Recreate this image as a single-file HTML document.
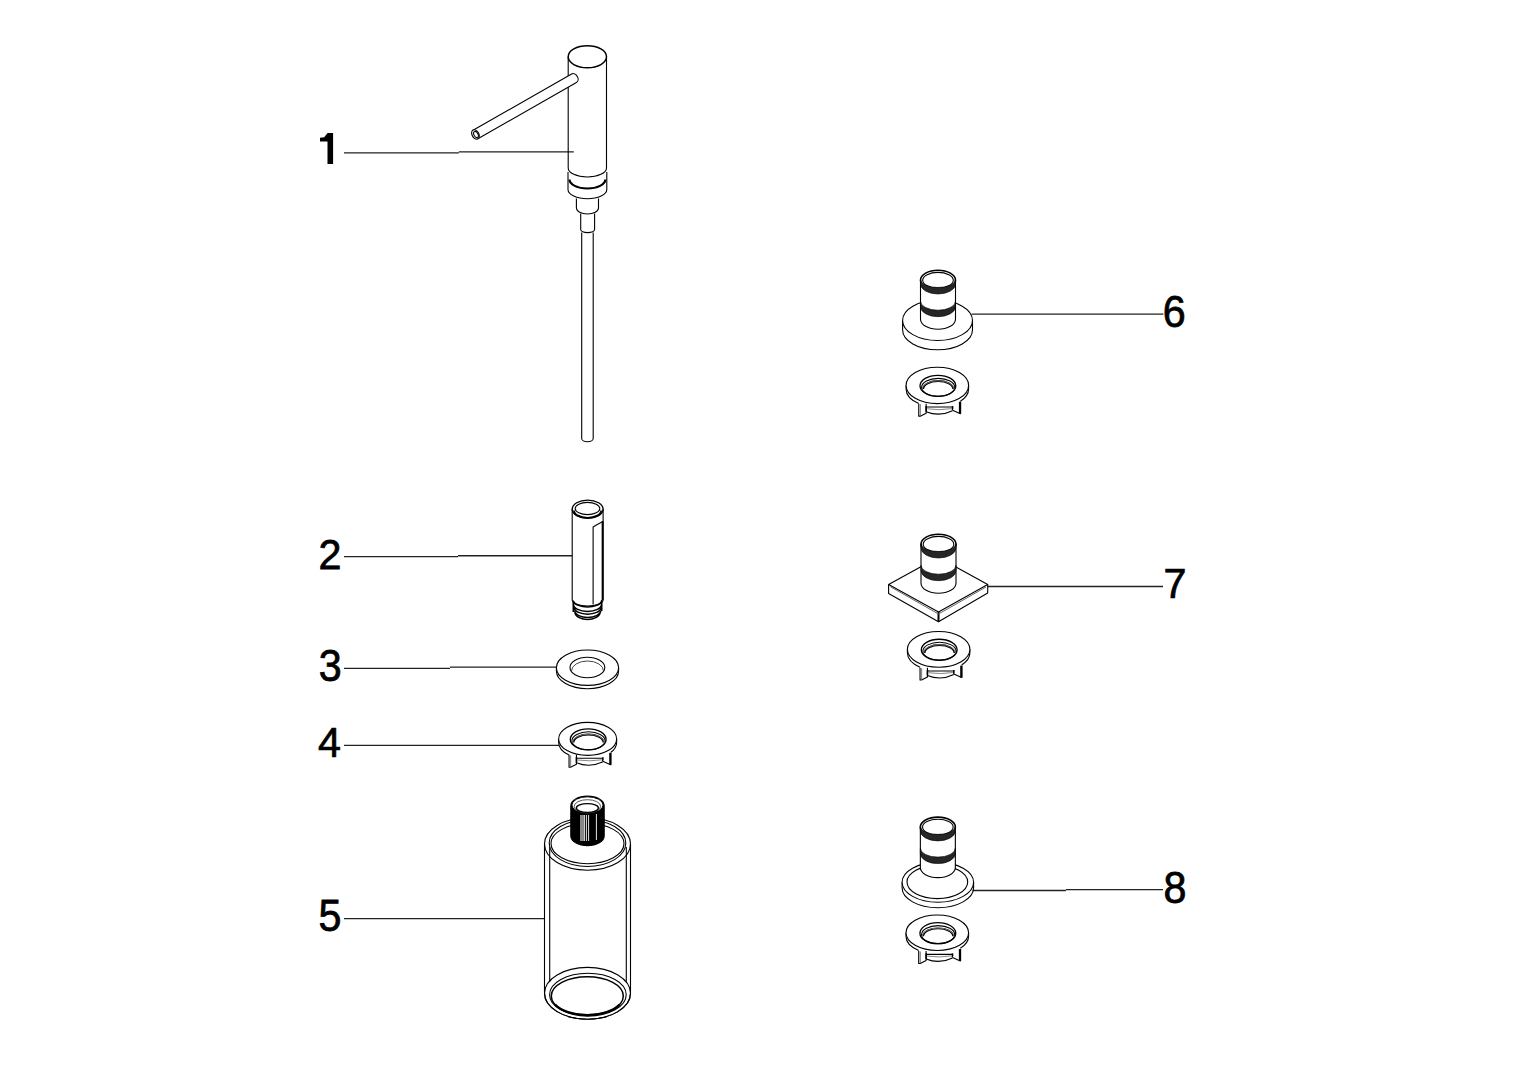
<!DOCTYPE html>
<html><head><meta charset="utf-8">
<style>
html,body{margin:0;padding:0;background:#fff;width:1527px;height:1080px;overflow:hidden}
svg{position:absolute;left:0;top:0}
.lb{font-family:"Liberation Sans",sans-serif;font-size:43px;fill:#000;stroke:#000;stroke-width:0.75}
</style></head><body>
<svg width="1527" height="1080" viewBox="0 0 1527 1080">
<g id="labels"><path d="M327.5,133.1 H333.1 V164 H327.5 V141.6 H320 V137.7 L324.2,137.2 L327.5,133.1 Z" fill="#000"/>
<text class="lb" transform="translate(318.58,568.56) scale(0.96,1)">2</text>
<text class="lb" transform="translate(318.78,681.24) scale(0.96,1.04)">3</text>
<text class="lb" transform="translate(318.12,756.72) scale(0.96,0.99)">4</text>
<text class="lb" transform="translate(318.52,931.31) scale(0.96,1.02)">5</text>
<text class="lb" transform="translate(1162.84,327.38) scale(0.96,1.03)">6</text>
<text class="lb" transform="translate(1163.45,598.13) scale(0.96,0.99)">7</text>
<text class="lb" transform="translate(1163.57,903.02) scale(0.96,1.03)">8</text></g>
<g id="leaders" stroke="#222" stroke-width="1.3" fill="none">
<path d="M344,152.8 H458.8 M458.8,151.9 H573.8"/>
<path d="M344,556.6 H458 M458,555.75 H572.2"/>
<path d="M344,668.4 H450 M450,667.1 H557"/>
<path d="M344,745.4 H559.3"/>
<path d="M344,918.7 H544.4"/>
<path d="M971.5,314.2 H1163.4"/>
<path d="M987.9,586.5 H1163"/>
<path d="M972.5,890.5 H1065.9 M1065.9,889.6 H1163"/>
</g>
<g id="parts" stroke="#000" stroke-width="1.1" fill="none" stroke-linejoin="round">
<ellipse cx="587.35" cy="56.75" rx="19.15" ry="11" stroke-width="1.5"/>
<path d="M568.2,56.75 V168 A19.15,9 0 0 0 606.5,168 V56.75"/>
<path d="M568,172 V189.5 A19.4,9.3 0 0 0 606.8,189.5 V172"/>
<path d="M569.5,179.5 A17.9,9 0 0 0 605.3,179.5" stroke-width="2.2"/>
<path d="M576.4,198.5 V208 A11.05,6 0 0 0 598.5,208 V198.5"/>
<path d="M580.7,213.5 V229.6 A6.95,3 0 0 0 594.6,229.6 V213.5"/>
<path d="M581.7,232.5 V438.5 A5.75,3.3 0 0 0 593.2,438.5 V232.5" stroke-width="1.1"/>
<g transform="translate(574,78.3) rotate(-29.67)">
  <path d="M-113.4,-4.9 H0 A3.8,4.9 0 0 1 0,4.9 H-113.4 Z" fill="#fff"/>
  <ellipse cx="-113.4" cy="0" rx="3.4" ry="5" fill="#fff"/>
  <ellipse cx="-113" cy="0.3" rx="2" ry="3.3" stroke-width="1"/>
</g>


<path d="M572.2,509.2 V600 A15.45,6 0 0 0 603.1,600 V509.2" fill="#fff"/>
<ellipse cx="587.65" cy="509.2" rx="15.45" ry="9.1" stroke-width="1.4"/>
<ellipse cx="587.5" cy="508.5" rx="12.3" ry="6.1"/>
<path d="M574,510.5 A13.6,7.3 0 0 0 601.2,510.5" stroke-width="1.8"/>
<path d="M593.1,604.5 V527 Q597,524.5 602,522"/>
<path d="M602.6,521 V600" stroke-width="1.9"/>
<path d="M573.5,601.5 A14.2,6.5 0 0 0 601.5,601.5" stroke-width="1.5"/>
<path d="M573.5,604.5 A14,7 0 0 0 601.5,604.5" stroke-width="1.5"/>
<path d="M574,608 A13.7,7 0 0 0 601.2,608" stroke-width="1.5"/>
<path d="M574.5,611 A13.2,7 0 0 0 600.8,611" stroke-width="1.5"/>
<path d="M575,613 A12.6,7.3 0 0 0 600,613" stroke-width="1.5"/>
<path d="M573.3,600.5 V612 M601.7,600 V611" stroke-width="1.6"/>


<path d="M556.4,667.7 V671 A31.1,17.7 0 0 0 618.6,671 V667.7"/>
<ellipse cx="587.5" cy="667.7" rx="31.1" ry="17.7" fill="#fff"/>
<ellipse cx="587.4" cy="667.5" rx="17.4" ry="10.2"/>
<path d="M571.5,671 A16,10 0 0 1 603.5,671" stroke="#444" stroke-width="1"/>

<path d="M558.65,738.9 V742.4 A29,16.5 0 0 0 569.05,755.06"/>
<path d="M616.65,738.9 V742.4 A29,16.5 0 0 1 610.65,752.45"/>
<path d="M569.05,754.9 V767.3 L570.55,767.3 L576.45,764.3 V754.9" fill="#fff"/>
<path d="M570.65,755.4 V766.8" stroke-width="0.8" stroke="#555"/>
<path d="M576.45,758.2 H602.85 M576.45,762.8 Q589.65,768.2 602.85,761.8" />
<path d="M577.45,760 Q589.65,761.7 601.85,759.8" stroke="#777" stroke-width="0.9"/>
<path d="M576.45,757.2 V762.8" stroke-width="1.6"/>
<path d="M602.85,757.2 V761.3" stroke-width="1.6"/>
<path d="M602.85,761.3 L610.65,764.8 V752.9" fill="#fff"/>
<path d="M610.35,752.9 V764.8" stroke-width="2.3"/>
<ellipse cx="587.65" cy="738.9" rx="29" ry="16.5" fill="#fff"/>
<ellipse cx="588.2" cy="739.3" rx="17.9" ry="10.5" stroke-width="1.35"/>
<ellipse cx="588.5" cy="740.8" rx="16.6" ry="9" stroke-width="1.1"/>
<path d="M573.5,742.5 A15,8 0 0 1 603.5,742.5" stroke-width="1.9"/>
<path d="M572.4,742.8 A16,8.6 0 0 1 604.4,742.8" stroke="#777" stroke-width="0.9"/>

<path d="M544.5,843.5 V993.3 A43,25.9 0 0 0 630.5,993.3 V843.5"/>
<path d="M549.7,847 V981.7 M626.3,847 V981.7"/>
<ellipse cx="587.5" cy="844" rx="43" ry="26.2"/>
<ellipse cx="587.5" cy="843.1" rx="38.3" ry="23.4"/>
<ellipse cx="587.5" cy="843.6" rx="36.5" ry="20.1"/>
<ellipse cx="587.5" cy="993.3" rx="43" ry="25.9"/>
<ellipse cx="587.9" cy="994.7" rx="38.3" ry="21.4"/>
<ellipse cx="587.3" cy="995.9" rx="36" ry="19.2" stroke-width="1.5"/>
<path d="M555.3,1004.7 A36,19.2 0 0 0 619.3,1004.7" stroke-width="2.2"/>
<path d="M570.8,805.7 V836 A16.7,9.6 0 0 0 604.2,836 V805.7 A16.7,9.6 0 0 0 570.8,805.7 Z" fill="#000"/>
<ellipse cx="587.5" cy="805" rx="15.6" ry="8.2" fill="#fff" stroke-width="1"/>
<ellipse cx="587.4" cy="806.3" rx="13.2" ry="6.6" stroke="#555" stroke-width="1"/>
<ellipse cx="587.4" cy="808" rx="11" ry="4.3" stroke-width="1.3"/>
<rect x="580" y="815" width="3.9" height="26" fill="#888" stroke="none"/>
<path d="M584.4,815 V841 M586.4,815 V841 M588.6,815 V841 M596.4,814 V840" stroke="#fff" stroke-width="0.9"/>


<path d="M902.6,320.4 V329.7 A34.95,20.1 0 0 0 972.5,329.7 V320.4"/>
<ellipse cx="937.55" cy="320.4" rx="34.95" ry="20.1" fill="#fff"/>
<path d="M920.5,280.2 V319.2 A17.5,10 0 0 0 955.5,319.2 V280.2" fill="#fff"/>
<ellipse cx="938" cy="280.2" rx="17.5" ry="10" fill="#fff" stroke-width="1.6"/>
<ellipse cx="938" cy="280.2" rx="15.3" ry="7.8"/>
<path d="M920.5,279.7 A17.5,7.8 0 0 0 955.5,279.7 L955.5,284 A17.5,10 0 0 1 920.5,284 Z" fill="#262626" stroke-width="0.6"/>
<path d="M920.5,301.2 A17.5,9 0 0 0 955.5,301.2 L955.5,306.7 A17.5,10 0 0 1 920.5,306.7 Z" fill="#262626" stroke-width="0.6"/>
<path d="M906.1,385.45 V388.95 A31.25,18.2 0 0 0 918.75,403.58"/>
<path d="M968.6,385.45 V388.95 A31.25,18.2 0 0 1 960.35,401.27"/>
<path d="M918.75,403.75 V416.15 L920.25,416.15 L926.15,413.15 V403.75" fill="#fff"/>
<path d="M920.35,404.25 V415.65" stroke-width="0.8" stroke="#555"/>
<path d="M926.15,407.05 H952.55 M926.15,411.65 Q939.35,417.05 952.55,410.65" />
<path d="M927.15,408.85 Q939.35,410.55 951.55,408.65" stroke="#777" stroke-width="0.9"/>
<path d="M926.15,406.05 V411.65" stroke-width="1.6"/>
<path d="M952.55,406.05 V410.15" stroke-width="1.6"/>
<path d="M952.55,410.15 L960.35,413.65 V401.75" fill="#fff"/>
<path d="M960.05,401.75 V413.65" stroke-width="2.3"/>
<ellipse cx="937.35" cy="385.45" rx="31.25" ry="18.2" fill="#fff"/>
<ellipse cx="937.9" cy="385.85" rx="17.9" ry="10.5" stroke-width="1.35"/>
<ellipse cx="938.2" cy="387.35" rx="16.6" ry="9" stroke-width="1.1"/>
<path d="M923.2,389.05 A15,8 0 0 1 953.2,389.05" stroke-width="1.9"/>
<path d="M922.1,389.35 A16,8.6 0 0 1 954.1,389.35" stroke="#777" stroke-width="0.9"/>

<path d="M888.6,584.5 L938.2,557.2 L987.7,584.5 L938.5,612 Z" fill="#fff"/>
<path d="M888.6,584.5 V593.5 L938.5,621.8 L987.7,593.1 V584.5"/>
<path d="M938.5,612 V621.8" stroke-width="2"/>
<path d="M890.5,586.8 L938.5,614 L986,587" stroke="#666" stroke-width="1"/>
<path d="M921,544.2 V583.2 A17.5,10 0 0 0 956,583.2 V544.2" fill="#fff"/>
<ellipse cx="938.5" cy="544.2" rx="17.5" ry="10" fill="#fff" stroke-width="1.6"/>
<ellipse cx="938.5" cy="544.2" rx="15.3" ry="7.8"/>
<path d="M921,543.7 A17.5,7.8 0 0 0 956,543.7 L956,548 A17.5,10 0 0 1 921,548 Z" fill="#262626" stroke-width="0.6"/>
<path d="M921,565.2 A17.5,9 0 0 0 956,565.2 L956,570.7 A17.5,10 0 0 1 921,570.7 Z" fill="#262626" stroke-width="0.6"/>
<path d="M907.4,649.35 V652.85 A31.25,17.9 0 0 0 920.05,667.23"/>
<path d="M969.9,649.35 V652.85 A31.25,17.9 0 0 1 961.65,664.97"/>
<path d="M920.05,667.65 V680.05 L921.55,680.05 L927.45,677.05 V667.65" fill="#fff"/>
<path d="M921.65,668.15 V679.55" stroke-width="0.8" stroke="#555"/>
<path d="M927.45,670.95 H953.85 M927.45,675.55 Q940.65,680.95 953.85,674.55" />
<path d="M928.45,672.75 Q940.65,674.45 952.85,672.55" stroke="#777" stroke-width="0.9"/>
<path d="M927.45,669.95 V675.55" stroke-width="1.6"/>
<path d="M953.85,669.95 V674.05" stroke-width="1.6"/>
<path d="M953.85,674.05 L961.65,677.55 V665.65" fill="#fff"/>
<path d="M961.35,665.65 V677.55" stroke-width="2.3"/>
<ellipse cx="938.65" cy="649.35" rx="31.25" ry="17.9" fill="#fff"/>
<ellipse cx="939.2" cy="649.75" rx="17.9" ry="10.5" stroke-width="1.35"/>
<ellipse cx="939.5" cy="651.25" rx="16.6" ry="9" stroke-width="1.1"/>
<path d="M924.5,652.95 A15,8 0 0 1 954.5,652.95" stroke-width="1.9"/>
<path d="M923.4,653.25 A16,8.6 0 0 1 955.4,653.25" stroke="#777" stroke-width="0.9"/>

<path d="M902.1,882.3 V887.8 A35.75,19.9 0 0 0 973.6,887.8 V882.3"/>
<ellipse cx="937.85" cy="882.3" rx="35.75" ry="19.9" fill="#fff"/>
<ellipse cx="937.35" cy="882" rx="30.35" ry="16.6"/>
<path d="M920.35,827.1 V867.6 A17.5,10 0 0 0 955.35,867.6 V827.1" fill="#fff"/>
<ellipse cx="937.85" cy="827.1" rx="17.5" ry="10" fill="#fff" stroke-width="1.6"/>
<ellipse cx="937.85" cy="827.1" rx="15.3" ry="7.8"/>
<path d="M920.35,826.6 A17.5,7.8 0 0 0 955.35,826.6 L955.35,830.9 A17.5,10 0 0 1 920.35,830.9 Z" fill="#262626" stroke-width="0.6"/>
<path d="M920.35,848.1 A17.5,9 0 0 0 955.35,848.1 L955.35,853.6 A17.5,10 0 0 1 920.35,853.6 Z" fill="#262626" stroke-width="0.6"/>
<path d="M906,932.75 V936.25 A31.3,17.7 0 0 0 918.7,950.49"/>
<path d="M968.6,932.75 V936.25 A31.3,17.7 0 0 1 960.3,948.26"/>
<path d="M918.7,951.05 V963.45 L920.2,963.45 L926.1,960.45 V951.05" fill="#fff"/>
<path d="M920.3,951.55 V962.95" stroke-width="0.8" stroke="#555"/>
<path d="M926.1,954.35 H952.5 M926.1,958.95 Q939.3,964.35 952.5,957.95" />
<path d="M927.1,956.15 Q939.3,957.85 951.5,955.95" stroke="#777" stroke-width="0.9"/>
<path d="M926.1,953.35 V958.95" stroke-width="1.6"/>
<path d="M952.5,953.35 V957.45" stroke-width="1.6"/>
<path d="M952.5,957.45 L960.3,960.95 V949.05" fill="#fff"/>
<path d="M960,949.05 V960.95" stroke-width="2.3"/>
<ellipse cx="937.3" cy="932.75" rx="31.3" ry="17.7" fill="#fff"/>
<ellipse cx="937.85" cy="933.15" rx="17.9" ry="10.5" stroke-width="1.35"/>
<ellipse cx="938.15" cy="934.65" rx="16.6" ry="9" stroke-width="1.1"/>
<path d="M923.15,936.35 A15,8 0 0 1 953.15,936.35" stroke-width="1.9"/>
<path d="M922.05,936.65 A16,8.6 0 0 1 954.05,936.65" stroke="#777" stroke-width="0.9"/></g>
</svg>
</body></html>
